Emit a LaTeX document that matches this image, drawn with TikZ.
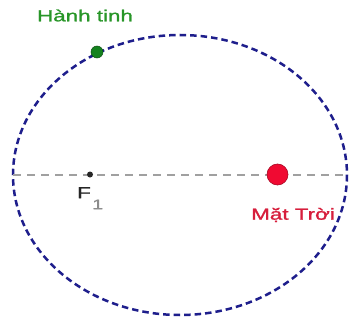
\documentclass[tikz,border=0pt]{standalone}
\usepackage{fontspec}
\setmainfont{Liberation Sans}
\newfontfamily\lblfont[FakeBold=1.2]{Liberation Sans}
\definecolor{orbitblue}{RGB}{30,30,140}
\definecolor{axisgray}{RGB}{160,160,160}
\definecolor{planetgreen}{RGB}{20,130,30}
\definecolor{labelgreen}{RGB}{40,150,40}
\definecolor{sunred}{RGB}{240,10,50}
\definecolor{sunlabel}{RGB}{215,30,60}
\newcommand{\wide}[1]{\scalebox{1.4}[1]{#1}}
\tikzset{
  orbit/.style={draw=orbitblue, line width=2.5pt, dash pattern=on 6.5pt off 4pt},
  axisline/.style={draw=axisgray, line width=1.4pt, dash pattern=on 8pt off 6pt},
  lbl/.style={font=\lblfont\fontsize{16}{18}\selectfont, inner sep=0pt},
}
\begin{document}
\begin{tikzpicture}[x=1pt,y=-1pt]
\useasboundingbox[fill=white] (0,0) rectangle (349,324);
% orbit
\draw[orbit] (180,175) ellipse [x radius=167, y radius=140];
\coordinate (axL) at (13,175);
\coordinate (axR) at (343,175);
\draw[axisline] (axL) -- (axR);
% focus
\node[circle, fill=black!85, inner sep=0pt, minimum size=6pt] (f1) at (90,174.5) {};
\node[lbl, text=black!85, anchor=north] (f1lbl) at (84,187) {\wide{F}};
\node[lbl, text=black!45, font=\lblfont\fontsize{14}{16}\selectfont, anchor=north west] (f1sub) at (f1lbl.south east) [yshift=-1pt, xshift=1pt] {\wide{1}};
% sun
\node[circle, fill=sunred, draw=sunred!70!black, line width=0.6pt, inner sep=0pt, minimum size=21pt] (sun) at (277.5,174.5) {};
\node[lbl, text=sunlabel] (sunlbl) at (293,215) {\wide{Mặt Trời}};
% planet
\node[circle, fill=planetgreen, draw=planetgreen!60!black, line width=0.5pt, inner sep=0pt, minimum size=12pt] (planet) at (97,52) {};
\node[lbl, text=labelgreen] (planetlbl) at (85,15.5) {\wide{Hành tinh}};
\end{tikzpicture}
\end{document}
